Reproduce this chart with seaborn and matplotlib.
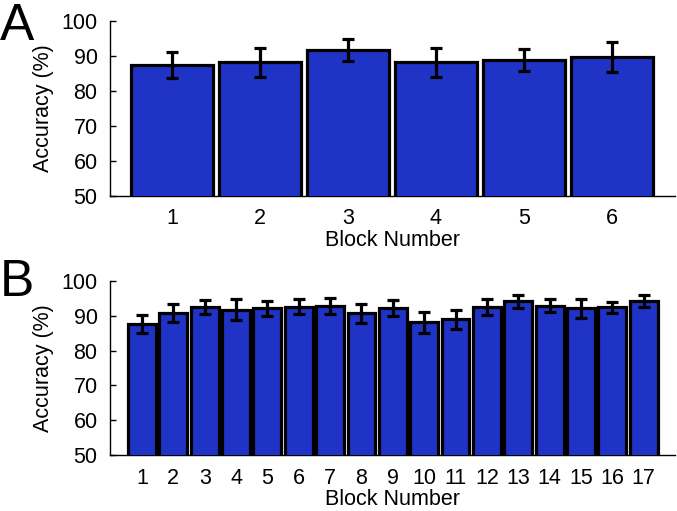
import matplotlib
matplotlib.use("Agg")
import matplotlib.pyplot as plt
import seaborn as sns
import pandas as pd

blocks_a = ["1", "2", "3", "4", "5", "6"]
acc_a = [87.4, 88.2, 91.7, 88.2, 88.9, 89.7]
err_a = [3.6, 4.2, 3.1, 4.2, 3.1, 4.2]

blocks_b = [str(i) for i in range(1, 18)]
acc_b = [87.7, 90.9, 92.4, 91.7, 92.1, 92.6, 92.9, 90.7, 92.1, 88.2, 89.0,
         92.4, 94.2, 92.9, 92.1, 92.4, 94.2]
err_b = [2.6, 2.6, 2.0, 3.0, 2.1, 2.2, 2.3, 2.7, 2.3, 3.0, 2.8,
         2.3, 1.9, 1.8, 2.6, 1.5, 1.8]

yticks = [50, 60, 70, 80, 90, 100]

sns.set_theme(style="white")
plt.rcParams['font.family'] = ['Liberation Sans', 'DejaVu Sans']
plt.rcParams.update({"text.color": "black", "axes.labelcolor": "black",
                     "xtick.color": "black", "ytick.color": "black"})

BAR = "#1f34c6"
W, H = 677, 511
FS = 15.5
fig = plt.figure(figsize=(W / 100, H / 100), dpi=100)


def panel(rect, cats, vals, errs, width, xlim, capsize):
    ax = fig.add_axes(rect)
    df = pd.DataFrame({"Block": cats, "Acc": vals})
    sns.barplot(data=df, x="Block", y="Acc", order=cats, color=BAR,
                saturation=1, width=width, edgecolor="black", linewidth=2.3,
                errorbar=None, ax=ax, zorder=3)
    ax.errorbar(range(len(cats)), vals, yerr=errs, fmt="none", ecolor="black",
                elinewidth=2.3, capsize=capsize, capthick=2.3, zorder=4)
    ax.set_ylim(50, 100)
    ax.set_xlim(*xlim)
    ax.set_yticks(yticks)
    ax.set_yticklabels([str(t) for t in yticks])
    for s in ["top", "right"]:
        ax.spines[s].set_visible(False)
    for s in ["left", "bottom"]:
        ax.spines[s].set_color("black")
        ax.spines[s].set_linewidth(1.0)
    ax.tick_params(axis="y", direction="in", length=4, width=1, pad=9,
                   labelsize=FS, left=True, color="black", labelcolor="black")
    ax.tick_params(axis="x", length=0, pad=9, labelsize=FS, labelcolor="black")
    ax.set_ylabel("Accuracy (%)", fontsize=FS, labelpad=5, color="black")
    ax.set_xlabel("Block Number", fontsize=FS, labelpad=0, color="black")
    return ax


axA = panel([110 / W, 1 - 196 / H, 565 / W, 175 / H], blocks_a, acc_a, err_a,
            0.93, (-0.705, 5.72), 4)
axB = panel([110 / W, 1 - 455 / H, 565 / W, 174 / H], blocks_b, acc_b, err_b,
            0.89, (-1.02, 17.0), 4)

fig.text(0.0, 1 - 2 / H, "A", fontsize=37, va="top", ha="left", color="black")
fig.text(0.0, 1 - 258 / H, "B", fontsize=37, va="top", ha="left", color="black")

fig.savefig("out.png", dpi=100)
